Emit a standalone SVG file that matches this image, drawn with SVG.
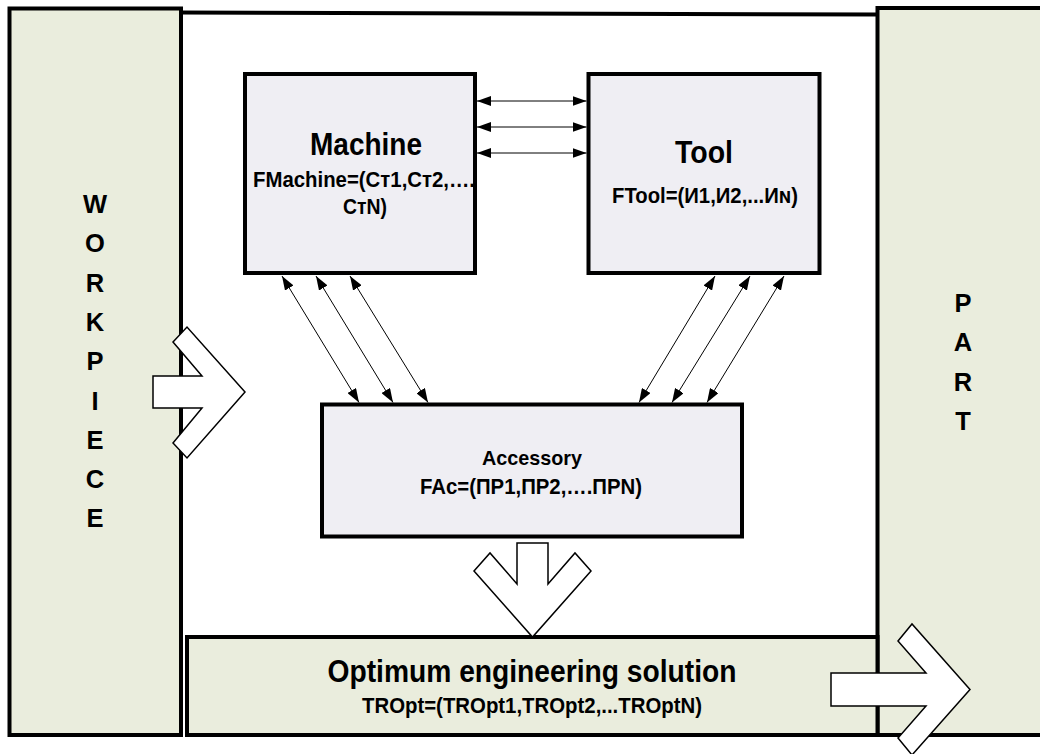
<svg xmlns="http://www.w3.org/2000/svg" width="1040" height="754" viewBox="0 0 1040 754">
  <defs>
    <marker id="ah" markerUnits="userSpaceOnUse" markerWidth="14" markerHeight="10" refX="14" refY="5" orient="auto-start-reverse">
      <path d="M0,0 L14,5 L0,10 z" fill="#000"/>
    </marker>
  </defs>
  <style>
    .panel { fill: #EAEDDD; stroke: #000; stroke-width: 4; }
    .box { fill: #EFEEF3; stroke: #000; stroke-width: 4; }
    .t { font-family: "Liberation Sans", Arial, "DejaVu Sans", sans-serif; font-weight: bold; fill: #000; text-anchor: middle; }
    .big { font-size: 31px; }
    .small { font-size: 22.5px; }
    .acc { font-size: 21px; }
    .letter { font-size: 25.5px; }
    .conn { stroke: #000; stroke-width: 1; fill: none; marker-start: url(#ah); marker-end: url(#ah); }
    .block { fill: #fff; stroke: #000; stroke-width: 1.5; stroke-linejoin: miter; }
  </style>
  <rect x="0" y="0" width="1040" height="754" fill="#fff"/>
  <line x1="180" y1="12.5" x2="879" y2="14.5" stroke="#000" stroke-width="4"/>

  <g id="workpiece">
    <rect class="panel" x="9.5" y="8.5" width="171.5" height="726.5"/>
    <text class="t letter" x="95" y="213">W</text>
    <text class="t letter" x="95" y="252.3">O</text>
    <text class="t letter" x="95" y="291.6">R</text>
    <text class="t letter" x="95" y="330.9">K</text>
    <text class="t letter" x="95" y="370.2">P</text>
    <text class="t letter" x="95" y="409.5">I</text>
    <text class="t letter" x="95" y="448.8">E</text>
    <text class="t letter" x="95" y="488.1">C</text>
    <text class="t letter" x="95" y="527.4">E</text>
  </g>

  <g id="part">
    <rect class="panel" x="877.5" y="8" width="170" height="727"/>
    <text class="t letter" x="963" y="312">P</text>
    <text class="t letter" x="963" y="351">A</text>
    <text class="t letter" x="963" y="391">R</text>
    <text class="t letter" x="963" y="430">T</text>
  </g>

  <g id="solution">
    <rect class="panel" x="187" y="637" width="690.5" height="98"/>
    <text class="t big" x="532" y="682" textLength="409" lengthAdjust="spacingAndGlyphs">Optimum engineering solution</text>
    <text class="t small" x="532" y="713" textLength="340" lengthAdjust="spacingAndGlyphs">TROpt=(TROpt1,TROpt2,...TROptN)</text>
  </g>

  <g id="machine">
    <rect class="box" x="245" y="74" width="230" height="199"/>
    <text class="t big" x="366" y="155" textLength="112" lengthAdjust="spacingAndGlyphs">Machine</text>
    <text class="t small" x="364" y="187" textLength="222" lengthAdjust="spacingAndGlyphs">FMachine=(Cт1,Cт2,….</text>
    <text class="t small" x="365" y="214" textLength="44" lengthAdjust="spacingAndGlyphs">CтN)</text>
  </g>

  <g id="tool">
    <rect class="box" x="588.5" y="74" width="231" height="199"/>
    <text class="t big" x="704" y="163" textLength="58" lengthAdjust="spacingAndGlyphs">Tool</text>
    <text class="t small" x="705" y="203" textLength="186" lengthAdjust="spacingAndGlyphs">FTool=(И1,И2,...Иɴ)</text>
  </g>

  <g id="accessory">
    <rect class="box" x="322" y="404.5" width="420" height="132"/>
    <text class="t acc" x="532" y="465" textLength="100" lengthAdjust="spacingAndGlyphs">Accessory</text>
    <text class="t small" x="531" y="494" textLength="222" lengthAdjust="spacingAndGlyphs">FAc=(ПР1,ПР2,….ПРN)</text>
  </g>

  <g id="connectors">
    <line class="conn" x1="477" y1="101" x2="586.5" y2="101"/>
    <line class="conn" x1="477" y1="127" x2="586.5" y2="127"/>
    <line class="conn" x1="477" y1="153" x2="586.5" y2="153"/>

    <line class="conn" x1="282" y1="276" x2="359" y2="402.5"/>
    <line class="conn" x1="316" y1="276" x2="393" y2="402.5"/>
    <line class="conn" x1="350" y1="276" x2="428" y2="402.5"/>

    <line class="conn" x1="715" y1="276" x2="639" y2="402.5"/>
    <line class="conn" x1="750" y1="276" x2="672" y2="402.5"/>
    <line class="conn" x1="784" y1="276" x2="707" y2="402.5"/>

    <polygon class="block" points="153,376 202,376 173,342 187,327 245,392 187,458 173,443 202,408 153,408"/>
    <polygon class="block" points="517,543 548,543 548,584 575,553 591,571 532.5,637 474,571 490,553 517,584"/>
    <polygon class="block" points="831,673 926,673 898,641 912,624 970,689.5 912,755 898,738 926,706 831,706"/>
  </g>
</svg>
